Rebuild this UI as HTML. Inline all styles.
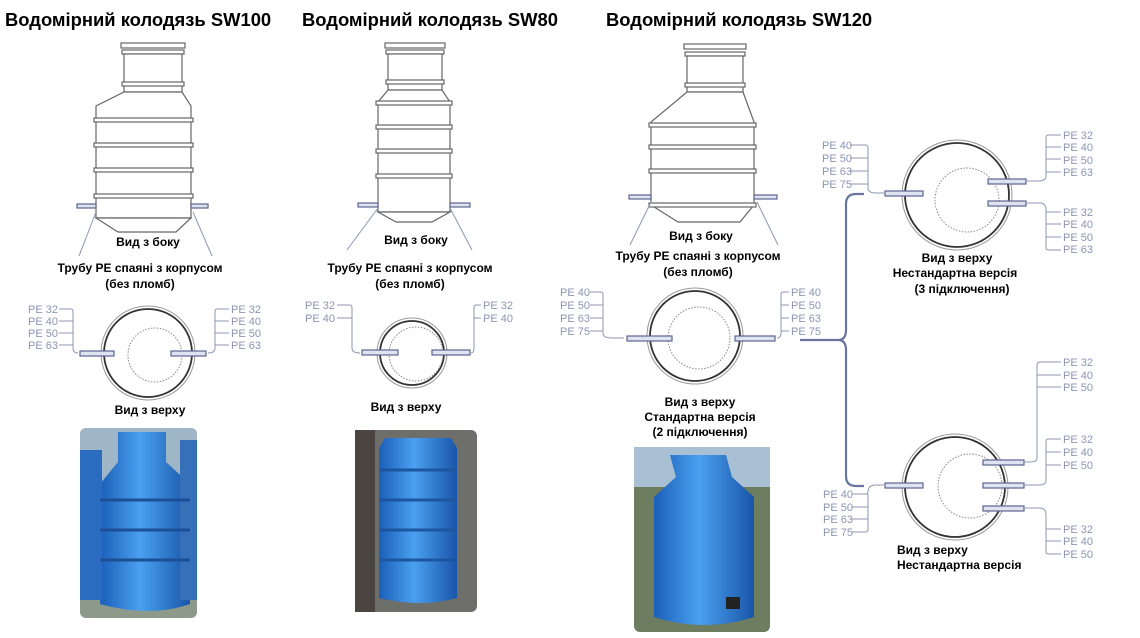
<!DOCTYPE html>
<html><head><meta charset="utf-8"><style>
body{margin:0;background:#fff;}
svg{display:block;font-family:"Liberation Sans",sans-serif;}
.t{font-weight:bold;font-size:18.4px;fill:#000}
.c{font-weight:bold;font-size:12px;fill:#000;text-anchor:middle}
.pe{font-size:11px;fill:#8c95b3}
.ln{fill:none;stroke:#8c95b3;stroke-width:1}
.tk{fill:#fff;stroke:#666;stroke-width:1.2}
.pp{fill:#dfe3f0;stroke:#5a6490;stroke-width:1.2}
</style></head><body>
<svg width="1140" height="638" viewBox="0 0 1140 638">
<defs>
<linearGradient id="bl" x1="0" x2="1"><stop offset="0" stop-color="#1b5fb8"/><stop offset=".45" stop-color="#4aa0f0"/><stop offset="1" stop-color="#1a55a8"/></linearGradient>
</defs>
<text class="t" x="5" y="26">Водомірний колодязь SW100</text>
<text class="t" x="302" y="26">Водомірний колодязь SW80</text>
<text class="t" x="606" y="26">Водомірний колодязь SW120</text>

<!-- SW100 side -->
<g>
<rect class="tk" x="121" y="43" width="64" height="5"/>
<rect class="tk" x="122" y="50" width="62" height="4"/>
<rect class="tk" x="124" y="54" width="58" height="38"/>
<rect class="tk" x="122" y="82" width="62" height="4"/>
<path class="tk" d="M124 92 L182 92 L191 106 L191 218 L96 218 L96 106 Z"/>
<path class="tk" d="M96 218 L191 218 L176 232 L118 232 Z"/>
<rect class="tk" x="94" y="118" width="99" height="4"/>
<rect class="tk" x="94" y="143" width="99" height="4"/>
<rect class="tk" x="94" y="168" width="99" height="4"/>
<rect class="tk" x="94" y="194" width="99" height="4"/>
<rect class="pp" x="77" y="204" width="19" height="4"/>
<rect class="pp" x="191" y="204" width="17" height="4"/>
<path class="ln" d="M96 212 L79 256 M193 212 L212 256" stroke="#6a76a0"/>
<text class="c" x="148" y="246">Вид з боку</text>
<text class="c" x="140" y="272">Трубу PE спаяні з корпусом</text>
<text class="c" x="140" y="288">(без пломб)</text>
</g>
<!-- SW100 top -->
<g>
<circle cx="148" cy="353" r="47" fill="none" stroke="#999" stroke-width="1"/>
<circle cx="148" cy="353" r="44" fill="none" stroke="#333" stroke-width="1.8"/>
<circle cx="155" cy="355" r="27" fill="none" stroke="#888" stroke-dasharray="1.5 1.5"/>
<rect class="pp" x="80" y="351" width="34" height="5"/>
<rect class="pp" x="171" y="351" width="35" height="5"/>
<g class="pe"><text x="28" y="313">PE 32</text><text x="28" y="325">PE 40</text><text x="28" y="337">PE 50</text><text x="28" y="349">PE 63</text>
<text x="231" y="313">PE 32</text><text x="231" y="325">PE 40</text><text x="231" y="337">PE 50</text><text x="231" y="349">PE 63</text></g>
<path class="ln" d="M59 309H71Q73 309 73 312V348Q73 353 78 353M59 321H73M59 333H73M59 345H73"/>
<path class="ln" d="M229 309H217Q215 309 215 312V348Q215 353 208 353M229 321H215M229 333H215M229 345H215"/>
<text class="c" x="150" y="414">Вид з верху</text>
</g>
<!-- SW100 photo -->
<g>
<rect x="80" y="428" width="117" height="190" rx="6" fill="#8d9a8a"/>
<rect x="80" y="428" width="117" height="60" rx="6" fill="#9fb6c8"/>
<path d="M118 432 h48 v30 l24 22 v120 q-40 14 -90 0 v-120 l18 -22z" fill="url(#bl)"/>
<path d="M80 450 h22 v150 h-22z" fill="#2a6cc0"/>
<rect x="180" y="440" width="17" height="160" fill="#3570b8"/>
<path d="M100 500 h90 M100 530 h90 M100 560 h90" stroke="#1c4f95" stroke-width="3"/>
</g>

<!-- SW80 side -->
<g>
<rect class="tk" x="385" y="43" width="60" height="5"/>
<rect class="tk" x="386" y="50" width="58" height="4"/>
<rect class="tk" x="388" y="54" width="54" height="36"/>
<rect class="tk" x="386" y="80" width="58" height="4"/>
<path class="tk" d="M388 90 L442 90 L450 102 L450 212 L378 212 L378 102 Z"/>
<path class="tk" d="M378 212 L450 212 L432 222 L396 222 Z"/>
<rect class="tk" x="376" y="101" width="76" height="4"/>
<rect class="tk" x="376" y="125" width="76" height="4"/>
<rect class="tk" x="376" y="149" width="76" height="4"/>
<rect class="tk" x="376" y="174" width="76" height="4"/>
<rect class="pp" x="358" y="203" width="20" height="4"/>
<rect class="pp" x="450" y="203" width="20" height="4"/>
<path class="ln" d="M378 208 L347 250 M450 208 L472 250" stroke="#6a76a0"/>
<text class="c" x="416" y="244">Вид з боку</text>
<text class="c" x="410" y="272">Трубу PE спаяні з корпусом</text>
<text class="c" x="410" y="288">(без пломб)</text>
</g>
<g>
<circle cx="412" cy="353" r="35" fill="none" stroke="#999"/>
<circle cx="412" cy="353" r="32" fill="none" stroke="#333" stroke-width="1.8"/>
<circle cx="416" cy="354" r="27" fill="none" stroke="#888" stroke-dasharray="1.5 1.5"/>
<rect class="pp" x="362" y="350" width="36" height="5"/>
<rect class="pp" x="432" y="350" width="38" height="5"/>
<g class="pe"><text x="305" y="309">PE 32</text><text x="305" y="322">PE 40</text><text x="483" y="309">PE 32</text><text x="483" y="322">PE 40</text></g>
<path class="ln" d="M337 305H350Q352 305 352 308V348Q352 353 360 353M337 318H352"/>
<path class="ln" d="M481 305H476Q474 305 474 308V348Q474 353 471 353M481 318H474"/>
<text class="c" x="406" y="411">Вид з верху</text>
</g>
<g>
<rect x="355" y="430" width="122" height="182" rx="6" fill="#6e6f6a"/>
<rect x="355" y="430" width="20" height="182" fill="#4a4540"/>
<path d="M385 438 h66 l6 10 v150 q-36 10 -78 0 v-150z" fill="url(#bl)"/>
<path d="M380 470 h76 M380 500 h76 M380 530 h76 M380 560 h76" stroke="#1c55a0" stroke-width="3"/>
</g>

<!-- SW120 side -->
<g>
<rect class="tk" x="684" y="44" width="62" height="5"/>
<rect class="tk" x="685" y="52" width="60" height="4"/>
<rect class="tk" x="687" y="56" width="56" height="36"/>
<rect class="tk" x="685" y="83" width="60" height="4"/>
<path class="tk" d="M687 92 L743 92 L754 122 L754 205 L651 205 L651 122 Z"/>
<path class="tk" d="M651 205 L754 205 L740 222 L678 222 Z"/>
<rect class="tk" x="649" y="123" width="107" height="4"/>
<rect class="tk" x="649" y="145" width="107" height="4"/>
<rect class="tk" x="649" y="169" width="107" height="4"/>
<rect class="tk" x="649" y="203" width="107" height="4"/>
<rect class="pp" x="629" y="195" width="22" height="4"/>
<rect class="pp" x="754" y="195" width="23" height="4"/>
<path class="ln" d="M651 202 L630 245 M757 202 L778 245" stroke="#6a76a0"/>
<text class="c" x="701" y="240">Вид з боку</text>
<text class="c" x="698" y="260">Трубу PE спаяні з корпусом</text>
<text class="c" x="698" y="276">(без пломб)</text>
</g>
<g>
<circle cx="695" cy="336" r="48" fill="none" stroke="#999"/>
<circle cx="695" cy="336" r="45" fill="none" stroke="#333" stroke-width="1.8"/>
<circle cx="699" cy="338" r="31" fill="none" stroke="#888" stroke-dasharray="1.5 1.5"/>
<rect class="pp" x="627" y="336" width="45" height="5"/>
<rect class="pp" x="735" y="336" width="40" height="5"/>
<g class="pe"><text x="560" y="296">PE 40</text><text x="560" y="309">PE 50</text><text x="560" y="322">PE 63</text><text x="560" y="335">PE 75</text>
<text x="791" y="296">PE 40</text><text x="791" y="309">PE 50</text><text x="791" y="322">PE 63</text><text x="791" y="335">PE 75</text></g>
<path class="ln" d="M590 292H601Q603 292 603 295V333Q603 338 612 338H624M590 305H603M590 318H603M590 331H603"/>
<path class="ln" d="M789 292H783Q781 292 781 295V333Q781 338 777 338M789 305H781M789 318H781M789 331H781"/>
<text class="c" x="700" y="406">Вид з верху</text>
<text class="c" x="700" y="421">Стандартна версія</text>
<text class="c" x="700" y="436">(2 підключення)</text>
</g>
<g>
<rect x="634" y="447" width="136" height="185" rx="6" fill="#6d7d60"/>
<rect x="634" y="447" width="136" height="40" fill="#a9c0d4"/>
<path d="M670 455 h56 l6 22 l22 20 v120 q-50 16 -100 0 v-120 l22 -20z" fill="url(#bl)"/>
<rect x="726" y="597" width="14" height="12" fill="#222"/>
</g>

<!-- bracket -->
<path d="M800 340 H838 Q846 340 846 330 V204 Q846 194 856 194 H864 M838 340 Q846 340 846 350 V476 Q846 486 856 486 H864" fill="none" stroke="#6a76a0" stroke-width="2.2"/>

<!-- top right -->
<g>
<circle cx="957" cy="195" r="55" fill="none" stroke="#999"/>
<circle cx="957" cy="195" r="52" fill="none" stroke="#333" stroke-width="1.8"/>
<circle cx="967" cy="200" r="32" fill="none" stroke="#888" stroke-dasharray="1.5 1.5"/>
<rect class="pp" x="885" y="191" width="38" height="5"/>
<rect class="pp" x="988" y="179" width="38" height="5"/>
<rect class="pp" x="988" y="201" width="38" height="5"/>
<g class="pe"><text x="822" y="149">PE 40</text><text x="822" y="162">PE 50</text><text x="822" y="175">PE 63</text><text x="822" y="188">PE 75</text>
<text x="1063" y="139">PE 32</text><text x="1063" y="151">PE 40</text><text x="1063" y="164">PE 50</text><text x="1063" y="176">PE 63</text>
<text x="1063" y="216">PE 32</text><text x="1063" y="228">PE 40</text><text x="1063" y="241">PE 50</text><text x="1063" y="253">PE 63</text></g>
<path class="ln" d="M850 145H866Q868 145 868 148V188Q868 193 876 193H884M850 158H868M850 171H868M850 184H868"/>
<path class="ln" d="M1061 135H1048Q1046 135 1046 138V176Q1046 181 1038 181H1027M1061 147H1046M1061 159H1046M1061 172H1046"/>
<path class="ln" d="M1027 203H1040Q1046 203 1046 210V248Q1046 250 1050 250H1061M1046 212H1061M1046 224H1061M1046 237H1061"/>
<text class="c" x="957" y="262">Вид з верху</text>
<text class="c" x="955" y="277">Нестандартна версія</text>
<text class="c" x="962" y="293">(3 підключення)</text>
</g>
<!-- bottom right -->
<g>
<circle cx="955" cy="487" r="53" fill="none" stroke="#999"/>
<circle cx="955" cy="487" r="50" fill="none" stroke="#333" stroke-width="1.8"/>
<circle cx="970" cy="486" r="32" fill="none" stroke="#888" stroke-dasharray="1.5 1.5"/>
<rect class="pp" x="885" y="483" width="38" height="5"/>
<rect class="pp" x="983" y="460" width="41" height="5"/>
<rect class="pp" x="983" y="483" width="41" height="5"/>
<rect class="pp" x="983" y="506" width="41" height="5"/>
<g class="pe"><text x="823" y="498">PE 40</text><text x="823" y="511">PE 50</text><text x="823" y="523">PE 63</text><text x="823" y="536">PE 75</text>
<text x="1063" y="366">PE 32</text><text x="1063" y="379">PE 40</text><text x="1063" y="391">PE 50</text>
<text x="1063" y="443">PE 32</text><text x="1063" y="456">PE 40</text><text x="1063" y="469">PE 50</text>
<text x="1063" y="533">PE 32</text><text x="1063" y="545">PE 40</text><text x="1063" y="558">PE 50</text></g>
<path class="ln" d="M852 494H866Q868 494 868 492V492Q868 485 876 485H884M852 507H868V494M852 519H868M852 532H866Q868 532 868 529V507"/>
<path class="ln" d="M1061 362H1040Q1037 362 1037 365V458Q1037 462 1030 462H1025M1037 375H1061M1037 387H1061"/>
<path class="ln" d="M1061 439H1048Q1046 439 1046 442V481Q1046 485 1038 485H1025M1046 452H1061M1046 465H1061"/>
<path class="ln" d="M1025 508H1040Q1046 508 1046 515V552Q1046 554 1050 554H1061M1046 529H1061M1046 541H1061"/>
<text class="c" x="897" y="554" style="text-anchor:start">Вид з верху</text>
<text class="c" x="897" y="569" style="text-anchor:start">Нестандартна версія</text>
</g>
</svg>
</body></html>
